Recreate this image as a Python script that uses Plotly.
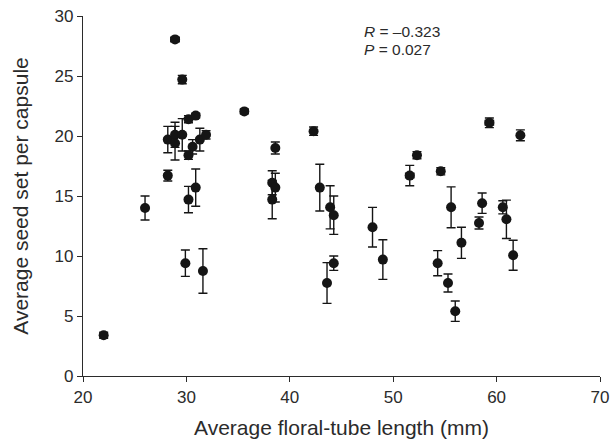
import plotly.graph_objects as go

tube_length = [22.0, 26.0, 28.2, 28.9, 29.6, 28.2, 28.9, 28.9, 29.6, 30.2,
               30.9, 30.2, 30.6, 31.3, 31.9, 35.6, 30.2, 30.9, 29.9, 31.6,
               38.6, 42.3, 38.3, 38.6, 38.3, 42.9, 43.9, 44.25, 43.6, 44.25,
               48.0, 49.0, 51.6, 52.3, 54.6, 54.3, 55.3, 55.6, 56.6, 56.0,
               58.6, 58.3, 59.3, 62.3, 60.6, 60.95, 61.6]
seed_set = [3.4, 14.0, 16.7, 28.05, 24.7, 19.7, 20.1, 19.4, 20.1, 21.4,
            21.7, 18.4, 19.1, 19.7, 20.1, 22.05, 14.7, 15.7, 9.4, 8.75,
            19.0, 20.4, 16.1, 15.7, 14.7, 15.7, 14.06, 13.4, 7.75, 9.4,
            12.4, 9.7, 16.7, 18.4, 17.06, 9.4, 7.75, 14.06, 11.1, 5.4,
            14.4, 12.75, 21.1, 20.06, 14.06, 13.06, 10.06]
seed_err = [0.25, 1.0, 0.45, 0.15, 0.35, 1.1, 1.05, 1.4, 1.35, 0.3,
            0.2, 0.35, 0.6, 0.95, 0.35, 0.2, 1.1, 1.55, 1.1, 1.85,
            0.5, 0.35, 1.0, 1.2, 1.6, 1.95, 1.8, 1.6, 1.7, 0.6,
            1.65, 1.65, 0.85, 0.3, 0.3, 1.05, 0.75, 1.7, 1.3, 0.85,
            0.85, 0.5, 0.4, 0.45, 0.55, 1.6, 1.25]
tube_err = [0.3, 0, 0, 0.4, 0, 0, 0, 0, 0, 0,
            0, 0, 0, 0, 0, 0.3, 0, 0, 0, 0,
            0, 0.2, 0, 0, 0, 0, 0, 0, 0, 0,
            0, 0, 0.4, 0, 0, 0, 0, 0, 0, 0,
            0, 0, 0.4, 0, 0, 0, 0]

x_ticks = [20, 30, 40, 50, 60, 70]
y_ticks = [0, 5, 10, 15, 20, 25, 30]

font = "Liberation Sans, Arial, sans-serif"
ink = "#2b2b2b"

fig = go.Figure()
fig.add_trace(go.Scatter(
    x=tube_length, y=seed_set, mode="markers",
    marker=dict(color="#151515", size=10),
    error_y=dict(type="data", array=seed_err, visible=True,
                 color="#151515", thickness=1.4, width=4.5),
    error_x=dict(type="data", array=tube_err, visible=True,
                 color="#151515", thickness=1.4, width=3),
    showlegend=False,
))

fig.update_layout(
    width=611, height=444,
    margin=dict(l=83, r=11, t=16, b=68),
    plot_bgcolor="white", paper_bgcolor="white",
    font=dict(family=font, size=17, color=ink),
    xaxis=dict(range=[20, 70], tickvals=x_ticks, showgrid=False, zeroline=False,
               showline=True, linecolor=ink, linewidth=1.2, automargin=False,
               ticks="outside", ticklen=5, tickcolor=ink,
               tickfont=dict(size=17, color=ink),
               title=dict(text="Average floral-tube length (mm)", font=dict(size=21, color=ink), standoff=14)),
    yaxis=dict(range=[0, 30], tickvals=y_ticks, showgrid=False, zeroline=False,
               showline=True, linecolor=ink, linewidth=1.2, automargin=False,
               ticks="outside", ticklen=5, tickcolor=ink,
               tickfont=dict(size=17, color=ink),
               title=dict(text="Average seed set per capsule", font=dict(size=21, color=ink), standoff=20)),
    annotations=[
        dict(x=47.0, y=28.75, xref="x", yref="y", xanchor="left", yanchor="middle",
             text="<i>R</i> = –0.323", showarrow=False, font=dict(size=15.5, color=ink)),
        dict(x=47.0, y=27.25, xref="x", yref="y", xanchor="left", yanchor="middle",
             text="<i>P</i> = 0.027", showarrow=False, font=dict(size=15.5, color=ink)),
    ],
)

fig.write_html("out.html", config={"displayModeBar": False},
               post_script="document.body.style.margin='0';document.body.style.overflow='hidden';")
